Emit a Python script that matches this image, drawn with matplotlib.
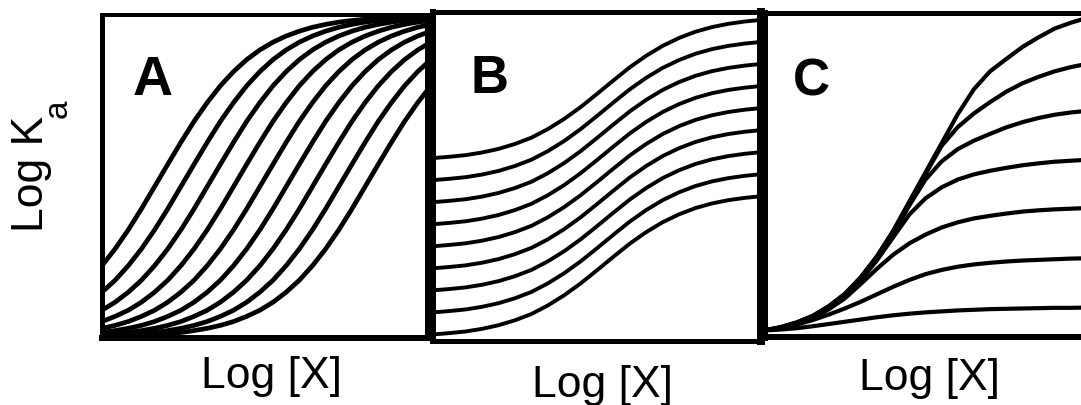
import matplotlib
matplotlib.use("Agg")
import matplotlib.pyplot as plt

plt.rcParams['font.family'] = ['Liberation Sans', 'DejaVu Sans']

W, H = 1081, 405

# panel A - same curve shifted along log[X], one step = half the shift
a_log_x = list(range(26))
a_curves = [
    [.224, .276, .335, .400, .469, .538, .606, .671, .729, .781, .825, .862, .892, .916, .935, .950, .962, .971, .978, .983, .987, .990, .993, .994, .996, .997],
    [.142, .179, .224, .276, .335, .400, .469, .538, .606, .671, .729, .781, .825, .862, .892, .916, .935, .950, .962, .971, .978, .983, .987, .990, .993, .994],
    [.086, .111, .142, .179, .224, .276, .335, .400, .469, .538, .606, .671, .729, .781, .825, .862, .892, .916, .935, .950, .962, .971, .978, .983, .987, .990],
    [.051, .067, .086, .111, .142, .179, .224, .276, .335, .400, .469, .538, .606, .671, .729, .781, .825, .862, .892, .916, .935, .950, .962, .971, .978, .983],
    [.030, .039, .051, .067, .086, .111, .142, .179, .224, .276, .335, .400, .469, .538, .606, .671, .729, .781, .825, .862, .892, .916, .935, .950, .962, .971],
    [.017, .023, .030, .039, .051, .067, .086, .111, .142, .179, .224, .276, .335, .400, .469, .538, .606, .671, .729, .781, .825, .862, .892, .916, .935, .950],
    [.010, .013, .017, .023, .030, .039, .051, .067, .086, .111, .142, .179, .224, .276, .335, .400, .469, .538, .606, .671, .729, .781, .825, .862, .892, .916],
    [.006, .008, .010, .013, .017, .023, .030, .039, .051, .067, .086, .111, .142, .179, .224, .276, .335, .400, .469, .538, .606, .671, .729, .781, .825, .862],
    [.003, .004, .006, .008, .010, .013, .017, .023, .030, .039, .051, .067, .086, .111, .142, .179, .224, .276, .335, .400, .469, .538, .606, .671, .729, .781],
]

# panel B - curves offset in Ka
b_log_x = [0.0, 0.05, 0.10, 0.15, 0.20, 0.25, 0.30, 0.35, 0.40, 0.45, 0.50,
           0.55, 0.60, 0.65, 0.70, 0.75, 0.80, 0.85, 0.90, 0.95, 1.0]
b_curves = [
    [.556, .560, .565, .573, .584, .599, .618, .644, .675, .711, .751, .792, .832, .867, .897, .921, .940, .954, .964, .971, .976],
    [.489, .493, .498, .506, .517, .532, .551, .577, .608, .644, .684, .725, .765, .800, .830, .854, .873, .887, .897, .904, .909],
    [.422, .426, .431, .439, .450, .465, .484, .510, .541, .577, .617, .658, .698, .733, .763, .787, .806, .820, .830, .837, .842],
    [.355, .359, .364, .372, .383, .398, .417, .443, .474, .510, .550, .591, .631, .666, .696, .720, .739, .753, .763, .770, .775],
    [.288, .292, .297, .305, .316, .331, .350, .376, .407, .443, .483, .524, .564, .599, .629, .653, .672, .686, .696, .703, .708],
    [.221, .225, .230, .238, .249, .264, .283, .309, .340, .376, .416, .457, .497, .532, .562, .586, .605, .619, .629, .636, .641],
    [.154, .158, .163, .171, .182, .197, .216, .242, .273, .309, .349, .390, .430, .465, .495, .519, .538, .552, .562, .569, .574],
    [.087, .091, .096, .104, .115, .130, .149, .175, .206, .242, .282, .323, .363, .398, .428, .452, .471, .485, .495, .502, .507],
    [.020, .024, .029, .037, .048, .063, .082, .108, .139, .175, .215, .256, .296, .331, .361, .385, .404, .418, .428, .435, .440],
]

# panel C - curves leaving the envelope at different plateaus
c_log_x = b_log_x
c_curves = [
    [.020, .030, .045, .065, .095, .133, .185, .250, .328, .418, .508, .598, .688, .765, .820, .858, .895, .925, .952, .970, .985],
    [.020, .030, .044, .064, .094, .132, .184, .248, .326, .415, .503, .590, .648, .690, .725, .757, .783, .803, .820, .833, .843],
    [.020, .029, .043, .063, .092, .130, .181, .244, .320, .406, .486, .542, .580, .606, .627, .647, .663, .676, .686, .693, .698],
    [.020, .029, .042, .061, .089, .126, .176, .237, .308, .378, .428, .462, .486, .502, .513, .522, .530, .536, .541, .544, .547],
    [.020, .028, .041, .058, .085, .119, .164, .211, .254, .289, .316, .338, .354, .366, .374, .381, .387, .391, .394, .396, .398],
    [.020, .027, .038, .052, .069, .088, .109, .132, .155, .176, .194, .207, .217, .224, .229, .233, .236, .238, .240, .242, .243],
    [.020, .023, .027, .033, .040, .047, .054, .061, .067, .072, .076, .079, .082, .084, .086, .087, .088, .089, .090, .090, .091],
]

panel_names = ['A', 'B', 'C']
x_label = 'Log [X]'
y_label = 'Log K'
y_sub = 'a'


def px_axes(fig, x0, y0, x1, y1):
    # axes box given in pixels from the top-left corner
    return fig.add_axes([x0 / W, 1 - y1 / H, (x1 - x0) / W, (y1 - y0) / H])


def frame(ax, left, top, right, bottom):
    for side, w in zip(['left', 'top', 'right', 'bottom'], [left, top, right, bottom]):
        ax.spines[side].set_linewidth(w * 0.72)
        ax.spines[side].set_color('black')
    ax.set_xticks([])
    ax.set_yticks([])


fig = plt.figure(figsize=(W / 100, H / 100), dpi=100)

ax_a = px_axes(fig, 102, 15, 427, 338)
for y in a_curves:
    ax_a.plot(a_log_x, y, color='black', lw=3.4)
ax_a.set_xlim(0, 24.7)
ax_a.set_ylim(0, 1)
frame(ax_a, 5, 4, 5, 6)

ax_b = px_axes(fig, 433, 12, 761, 341)
for y in b_curves:
    ax_b.plot(b_log_x, y, color='black', lw=2.8)
ax_b.set_xlim(0, 1)
ax_b.set_ylim(0, 1)
frame(ax_b, 6, 5, 8, 5)

ax_c = px_axes(fig, 764, 13, 1087, 337)
for y in c_curves:
    ax_c.plot(c_log_x, y, color='black', lw=3.0)
ax_c.set_xlim(0, 1)
ax_c.set_ylim(0, 1)
frame(ax_c, 7, 5, 5, 6)

# panel letters
for name, (x, y, size) in zip(panel_names, [(133, 95, 40), (470, 93, 38), (793, 95, 37)]):
    fig.text(x / W, 1 - y / H, name, fontsize=size, fontweight='bold',
             ha='left', va='baseline')

# x labels under each panel
for x, y in [(271, 388), (602, 397), (929, 390)]:
    fig.text(x / W, 1 - y / H, x_label, fontsize=32, ha='center', va='baseline')

# rotated y label with subscript
fig.text(43 / W, 1 - 232 / H, y_label, fontsize=32, rotation=90,
         rotation_mode='anchor', ha='left', va='baseline')
fig.text(67 / W, 1 - 118 / H, y_sub, fontsize=24, rotation=90,
         rotation_mode='anchor', ha='left', va='baseline')

fig.savefig('out.png', dpi=100)
